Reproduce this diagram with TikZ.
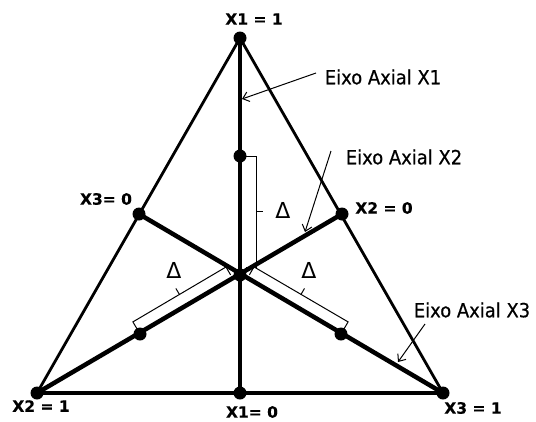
\documentclass[tikz,border=0pt]{standalone}
\usepackage{fontspec}
\setmainfont{DejaVu Sans}
\newfontfamily\eixofont[FakeStretch=0.92,FakeBold=0.6]{DejaVu Sans}
\newfontfamily\lblfont[FakeBold=0.4]{DejaVu Sans Bold}
\usetikzlibrary{arrows.meta}
\begin{document}
\begin{tikzpicture}[x=1pt,y=-1pt,
  sideline/.style={line width=2.8pt, line cap=round},
  baseline/.style={line width=3.2pt, line cap=round},
  axisline/.style={line width=4.5pt},
  dot/.style={circle, fill=black, inner sep=0pt, minimum size=13pt},
  brk/.style={line width=1pt, line join=miter},
  lbl/.style={font=\lblfont\fontsize{15.5}{18}\selectfont, inner sep=0pt},
  eixo/.style={font=\eixofont\fontsize{19.5}{22}\selectfont, inner sep=0pt},
  delta/.style={font=\fontsize{22}{24}\selectfont, inner sep=0pt},
  ptr/.style={line width=1pt, -{Straight Barb[length=6pt,width=10pt]}}
]
\fill[white] (0,0) rectangle (536,421);
\useasboundingbox (0,0) rectangle (536,421);

% vertices and points
\coordinate (T)  at (240,38);
\coordinate (BL) at (37,393);
\coordinate (BR) at (443,393);
\coordinate (BM) at (240,393);
\coordinate (LM) at (139,214);
\coordinate (RM) at (342,214);
\coordinate (C)  at (240,275);
\coordinate (TI) at (240,156);
\coordinate (LI) at (140,334);
\coordinate (RI) at (341,334);

% triangle
\draw[sideline] (T) -- (BL);
\draw[sideline] (T) -- (BR);
\draw[baseline] (BL) -- (BR);

% axes
\draw[axisline] (T) -- (BM);
\draw[axisline] (BL) -- (RM);
\draw[axisline] (BR) -- (LM);

% dots
\foreach \p in {T,BL,BR,BM,LM,RM,C,TI,LI,RI}
  \node[dot] (d\p) at (\p) {};

% brackets
\draw[brk] (TI) -- (256,156) -- (256,267) -- (246,267);
\draw[brk] (256,211.5) -- (263,211.5);
\draw[brk] (LI) -- (132.9,321.9) -- (226.0,267.0) -- (230.6,274.9);
\draw[brk] (179.5,294.5) -- (175.9,288.5);
\draw[brk] (RI) -- (348.1,321.9) -- (254.0,266.9) -- (249.4,274.8);
\draw[brk] (301.0,294.4) -- (304.5,288.4);

% deltas
\node[delta] (dv) at (283,210) {Δ};
\node[delta] (dl) at (174,270) {Δ};
\node[delta] (dr) at (309,270) {Δ};

% vertex labels
\node[lbl] (l1) at (254,19)  {X1 = 1};
\node[lbl] (l2) at (106,199) {X3= 0};
\node[lbl] (l3) at (384,208) {X2 = 0};
\node[lbl] (l4) at (41,406)  {X2 = 1};
\node[lbl] (l5) at (252,412) {X1= 0};
\node[lbl] (l6) at (473,408) {X3 = 1};

% axis labels and pointers
\node[eixo] (e1) at (383,77)  {Eixo Axial X1};
\node[eixo] (e2) at (404,157) {Eixo Axial X2};
\node[eixo] (e3) at (472,310) {Eixo Axial X3};

\coordinate (s1) at (316,73);
\coordinate (t1) at (242,99);
\coordinate (s2) at (331,151);
\coordinate (t2) at (305,232);
\coordinate (s3) at (425,324);
\coordinate (t3) at (398,362);
\draw[ptr] (s1) -- (t1);
\draw[ptr] (s2) -- (t2);
\draw[ptr] (s3) -- (t3);
\end{tikzpicture}
\end{document}
